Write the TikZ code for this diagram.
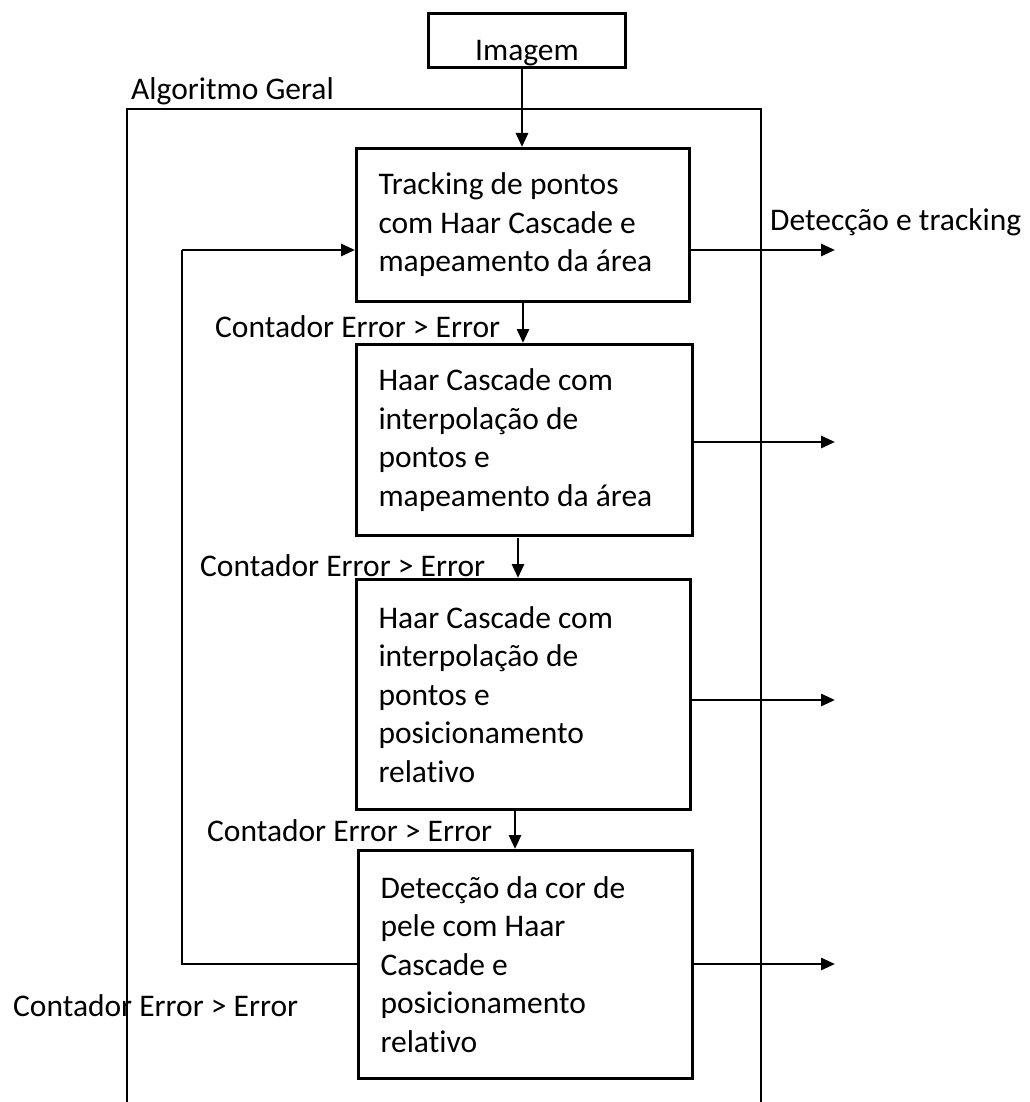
\documentclass[tikz,border=0pt]{standalone}
\usepackage{fontspec}
\setmainfont{Carlito}[Ligatures=NoCommon]
\usetikzlibrary{arrows.meta}
\begin{document}
\begin{tikzpicture}[x=1pt,y=-1pt,
  every node/.style={font=\fontsize{31.5}{38.5}\selectfont},
  stagebox/.style={draw,line width=3pt,align=flush left,anchor=north west,
    inner xsep=22pt,inner ysep=0pt,text width=#1},
  plain/.style={inner sep=0pt},
  flow/.style={line width=2.8pt,-{Triangle[length=14pt,width=12pt]}},
  wire/.style={line width=2.8pt},
  frame/.style={line width=2.4pt}]
\useasboundingbox (0,0) rectangle (1029,1102);

% outer frame of the general algorithm (open at the bottom)
\coordinate (fbl) at (127,1102);
\coordinate (ftl) at (127,109);
\coordinate (ftr) at (761,109);
\coordinate (fbr) at (761,1102);
\draw[frame] (fbl) -- (ftl) -- (ftr) -- (fbr);
\node[plain,anchor=base west] (geral) at (131,100) {Algoritmo Geral};

% input
\node[draw,line width=3pt,anchor=north west,minimum width=197pt,minimum height=54pt,
  inner sep=0pt,text height=41pt,text depth=0pt] (img) at (427,12) {Imagem};

% processing stages
\node[stagebox=289pt,minimum height=153pt] (b1) at (355,147)
  {Tracking de pontos\\com Haar Cascade e\\mapeamento da área};
\node[stagebox=292pt,minimum height=191pt] (b2) at (355,343)
  {Haar Cascade com\\interpolação de\\pontos e\\mapeamento da área};
\node[stagebox=290pt,minimum height=230pt] (b3) at (355,578)
  {Haar Cascade com\\interpolação de\\pontos e\\posicionamento\\relativo};
\node[stagebox=290pt,minimum height=228pt] (b4) at (357,849)
  {Detecção da cor de\\pele com Haar\\Cascade e\\posicionamento\\relativo};

% vertical flow between stages
\draw[flow] (522,66) coordinate (imgout) -- (imgout |- b1.north);
\draw[flow] (523,300) coordinate (s1) -- (s1 |- b2.north);
\draw[flow] (518,538) coordinate (s2) -- (s2 |- b3.north);
\draw[flow] (515,810) coordinate (s3) -- (s3 |- b4.north);

% condition labels
\node[plain,anchor=base west] (c1) at (215,337) {Contador Error > Error};
\node[plain,anchor=base west] (c2) at (200,576) {Contador Error > Error};
\node[plain,anchor=base west] (c3) at (207,841) {Contador Error > Error};
\node[plain,anchor=base west] (c4) at (13,1016) {Contador Error > Error};

% outputs
\coordinate (o1) at (835,250);
\coordinate (o2) at (835,442);
\coordinate (o3) at (835,700);
\coordinate (o4) at (835,964);
\draw[flow] (b1.east |- o1) -- (o1);
\draw[flow] (b2.east |- o2) -- (o2);
\draw[flow] (b3.east |- o3) -- (o3);
\draw[flow] (b4.east |- o4) -- (o4);
\node[plain,anchor=base west] (out) at (770,230) {Detecção e tracking};

% feedback loop from the last stage back to the first
\coordinate (lb) at (182,964);
\coordinate (lt) at (182,250);
\draw[wire] (b4.west |- lb) -- (lb) -- (lt);
\draw[flow] (lt) -- (b1.west |- lt);
\end{tikzpicture}
\end{document}
